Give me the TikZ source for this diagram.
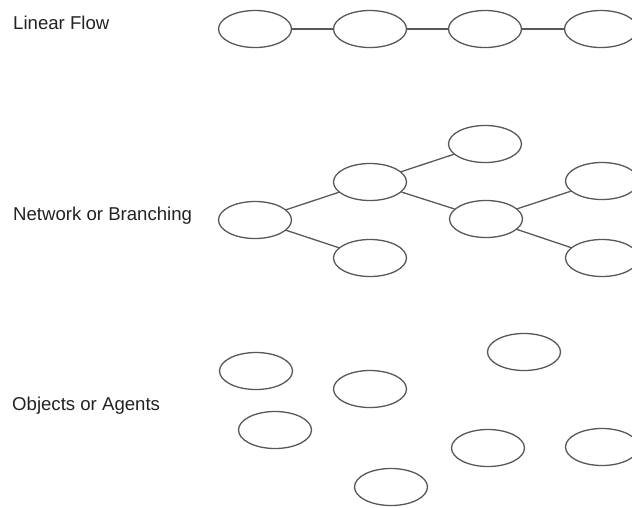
\documentclass[tikz,border=0pt]{standalone}
\usepackage{fontspec}
\setmainfont{Liberation Sans}
\usetikzlibrary{shapes.geometric}
\definecolor{edgegrey}{HTML}{585858}
\definecolor{txt}{HTML}{222222}
\tikzset{
  oval/.style={ellipse, draw=edgegrey, line width=1.3pt, minimum width=73pt, minimum height=37pt, inner sep=0pt},
  link/.style={draw=edgegrey, line width=1.3pt},
  lbl/.style={anchor=base west, inner sep=0pt, text=txt, font=\fontsize{18.6pt}{22pt}\selectfont}
}
\begin{document}
\begin{tikzpicture}[x=1pt,y=-1pt]
\useasboundingbox (0,0) rectangle (632,507);
\clip (0,0) rectangle (632,507);
% labels
\node[lbl] (t1) at (13,29.5) {Linear Flow};
\node[lbl] (t2) at (13,220) {Network or Branching};
\node[lbl] (t3) at (12,410) {Objects or Agents};
% linear flow
\node[oval] (l1) at (255,29) {};
\node[oval] (l2) at (370,29) {};
\node[oval] (l3) at (485,29) {};
\node[oval] (l4) at (601,29) {};
\draw[link] (l1) -- (l2);
\draw[link] (l2) -- (l3);
\draw[link] (l3) -- (l4);
% network
\node[oval] (na) at (255,220) {};
\node[oval] (nb) at (370,182) {};
\node[oval] (nc) at (370,258) {};
\node[oval] (nd) at (485,144) {};
\node[oval] (ne) at (486,219) {};
\node[oval] (nf) at (602,181) {};
\node[oval] (ng) at (602,258) {};
\draw[link] (na) -- (nb);
\draw[link] (na) -- (nc);
\draw[link] (nb) -- (nd);
\draw[link] (nb) -- (ne);
\draw[link] (ne) -- (nf);
\draw[link] (ne) -- (ng);
% objects
\node[oval] (o1) at (256,371) {};
\node[oval] (o2) at (370,389) {};
\node[oval] (o3) at (524,352) {};
\node[oval] (o4) at (275,430) {};
\node[oval] (o5) at (488,448) {};
\node[oval] (o6) at (602,447) {};
\node[oval] (o7) at (391,487) {};
\end{tikzpicture}
\end{document}
